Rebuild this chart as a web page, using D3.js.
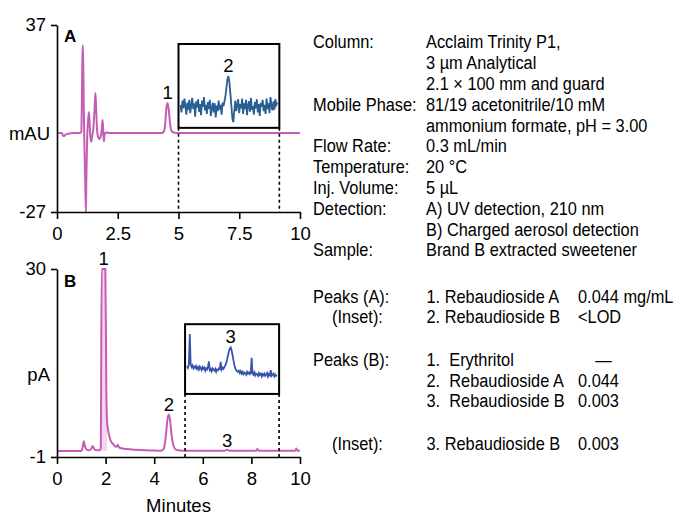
<!DOCTYPE html>
<html>
<head>
<meta charset="utf-8">
<script src="https://cdn.jsdelivr.net/npm/d3@7"></script>
<style>
  body { margin: 0; background: #fff; }
  text { font-family: "Liberation Sans", Arial, sans-serif; font-size: 18.5px; fill: #000; }
</style>
</head>
<body>
<svg id="chart" width="685" height="516"></svg>
<script>
// Trace A: UV 210 nm, [minutes, mAU]
const traceA = [
  [0, 0], [0.2, 0], [0.25, -0.8], [0.3, -1.0], [0.35, -0.5], [0.45, -0.2], [0.7, 0], [0.95, 0],
  [1.0, 0.5], [1.03, 15], [1.05, 30], [1.07, 30], [1.1, 10], [1.13, -5], [1.17, -20], [1.19, -27],
  [1.21, -15], [1.24, -2], [1.27, 3], [1.31, 7.2], [1.34, 4], [1.37, -1], [1.41, -3], [1.45, -1],
  [1.5, 2], [1.55, 9], [1.58, 13.7], [1.61, 9], [1.65, 1], [1.7, -1.5], [1.75, -2], [1.8, -1],
  [1.84, 1], [1.87, 4.5], [1.89, 3], [1.91, -1], [1.93, -2.9], [1.96, -0.5], [2.0, 0.2], [2.2, 0],
  [4.3, 0], [4.4, 0.6], [4.45, 3], [4.5, 8.5], [4.55, 10.3], [4.6, 8], [4.65, 3.5], [4.7, 1],
  [4.8, 0.2], [5, 0], [10, 0]
];

// Trace B: charged aerosol, [minutes, pA]
const traceB = [
  [0, 0], [1.0, 0], [1.05, 0.5], [1.1, 1.6], [1.15, 0.8], [1.2, 0.3], [1.3, 0.1], [1.4, 0.3],
  [1.47, 0.8], [1.52, 0.4], [1.6, 0.1], [1.75, 0.1], [1.8, 0.5], [1.84, 30], [1.99, 30], [2.03, 10],
  [2.06, 4.8], [2.1, 3.5], [2.15, 2.5], [2.2, 1.8], [2.25, 1.4], [2.3, 1.2], [2.35, 0.9], [2.45, 0.7],
  [2.5, 1.0], [2.55, 0.6], [2.7, 0.4], [2.9, 0.3], [3.2, 0.2], [3.6, 0.1], [4.3, 0.05], [4.4, 0.4],
  [4.48, 2.5], [4.55, 5.3], [4.6, 6.0], [4.65, 5.2], [4.72, 2.5], [4.8, 0.8], [4.9, 0.2], [5.2, 0.05],
  [6.9, 0.05], [7.0, 0.2], [7.1, 0.05], [8.2, 0.05], [8.25, 0.3], [8.3, 0.05], [9.8, 0.05],
  [9.85, 0.4], [9.9, 0.05], [10, 0.05]
];

// Inset signals, evenly sampled over the inset time window (relative units)
const insetA = [
  0.3, -0.8, 0.9, -0.2, 1.2, 0.1, -1.1, 0.6, -0.4, 1.0,
  -0.9, 0.2, 1.3, -0.3, 0.5, -1.4, 0.8, -0.1, 1.1, -0.7,
  0.4, -1.2, 0.9, 0.0, 1.4, -0.5, 0.3, -1.0, 0.7, -0.3,
  1.0, -1.3, -0.2, 0.6, -0.8, 0.5, -1.5, 0.2, -0.6, 0.9,
  -0.4, 0.3, -1.1, 0.6, 0.1,
  0.8, 1.6, 2.8, 4.0, 4.4, 3.5, 1.9, 0.2, -1.6, -2.2, -0.5,
  0.9, -0.6, 0.3, 1.1, -0.9, 0.4, -0.2, 1.2, -1.0, 0.5,
  -0.3, 1.0, -1.2, 0.2, 0.8, -0.7, 1.3, -0.4, 0.1, -1.1,
  0.7, -0.2, 1.1, -0.8, 0.4, -1.3, 0.6, 0.0, 1.0, -0.6,
  0.3, -1.0, 1.2, -0.3, 0.5, -0.9, 1.4, 0.1, -0.5, 0.8,
  -0.4, 1.1, 0.3, 0.6
];
const insetB = [
  1.8, 1.5, 2.2, 7.3, 2.0, 1.6, 1.9, 1.4, 1.7, 1.5,
  1.8, 1.3, 1.6, 1.2, 1.7, 1.4, 1.1, 1.6, 1.3, 1.5,
  1.0, 1.4, 1.2, 1.6, 2.6, 1.1, 1.3, 0.9, 1.4, 1.2,
  1.0, 1.3, 0.8, 1.2, 1.1, 1.4, 1.3, 2.5, 1.2, 1.5,
  1.3, 1.6, 1.9, 2.3, 2.9, 3.6, 4.3, 4.8, 5.0, 4.5,
  3.7, 2.8, 2.0, 1.4, 1.1, 0.9, 0.8, 1.0, 0.6, 0.9,
  0.5, 0.8, 0.4, 0.7, 0.6, 0.3, 0.8, 0.5, 0.7, 0.4,
  0.6, 3.2, 0.5, 0.3, 0.7, 0.2, 0.5, 0.4, 0.1, 0.6,
  0.3, 0.5, 0.0, 0.4, 0.2, 0.5, 0.1, 0.3, 0.6, 0.0,
  0.4, 0.2, 1.1, 0.1, 0.3, 0.5, 0.0, 0.3, 0.1, 0.2
];

const ticksA = [0, 2.5, 5, 7.5, 10];
const ticksB = [0, 2, 4, 6, 8, 10];

const methodLabels = ["Column:", "", "", "Mobile Phase:", "", "Flow Rate:", "Temperature:",
  "Inj. Volume:", "Detection:", "", "Sample:"];
const methodValues = ["Acclaim Trinity P1,", "3 µm Analytical", "2.1 × 100 mm and guard",
  "81/19 acetonitrile/10 mM", "ammonium formate, pH = 3.00", "0.3 mL/min", "20 °C", "5 µL",
  "A) UV detection, 210 nm", "B) Charged aerosol detection", "Brand B extracted sweetener"];

const peakRows = [
  { label: "Peaks (A):", name: "1. Rebaudioside A", amount: "0.044 mg/mL", y: 303 },
  { label: "(Inset):", name: "2. Rebaudioside B", amount: "<LOD", y: 323, indent: true },
  { label: "Peaks (B):", name: "1.  Erythritol", amount: "—", y: 366, dash: true },
  { label: "", name: "2.  Rebaudioside A", amount: "0.044", y: 387 },
  { label: "", name: "3.  Rebaudioside B", amount: "0.003", y: 407 },
  { label: "(Inset):", name: "3. Rebaudioside B", amount: "0.003", y: 450, indent: true }
];

const pink = "#c65db4";
const svg = d3.select("#chart");

// text in the conditions block is set narrower than the chart labels
function blockText(x, y, str, anchor) {
  return svg.append("text")
    .attr("transform", `translate(${x},${y}) scale(0.885,1)`)
    .attr("text-anchor", anchor || "start")
    .style("white-space", "pre")
    .text(str);
}

function drawPanel(p) {
  const x = d3.scaleLinear().domain([0, 10]).range([57, 300]);
  const y = d3.scaleLinear().domain(p.yDomain).range(p.yRange);
  const g = svg.append("g");

  if (p.fillFrom !== undefined) {
    const part = p.trace.filter(d => d[0] >= p.fillFrom && d[0] <= p.fillTo);
    g.append("path")
      .datum(part)
      .attr("fill", "#f3d6ee")
      .attr("d", d3.area().x(d => x(d[0])).y0(y(0)).y1(d => y(d[1])));
  }

  g.append("path")
    .datum(p.trace)
    .attr("fill", "none")
    .attr("stroke", pink)
    .attr("stroke-width", 2)
    .attr("stroke-linejoin", "round")
    .attr("d", d3.line().x(d => x(d[0])).y(d => y(d[1])).curve(d3.curveMonotoneX));

  const ax = g.append("g")
    .attr("transform", `translate(0,${p.yRange[0]})`)
    .call(d3.axisBottom(x).tickValues(p.xTicks).tickSize(7).tickPadding(8)
      .tickSizeOuter(0).tickFormat(d => String(d)));
  const ay = g.append("g")
    .attr("transform", "translate(57,0)")
    .call(d3.axisLeft(y).tickValues(p.yDomain).tickSize(6).tickPadding(5)
      .tickSizeOuter(0).tickFormat(d => String(d)));
  [ax, ay].forEach(a => {
    a.attr("font-size", null).attr("font-family", null);
    a.selectAll("path, line").attr("stroke", "#000").attr("stroke-width", 1.6);
    a.selectAll("text").style("font-size", "18.5px");
  });

  // inset window
  const bx0 = x(p.inset.t0), bx1 = x(p.inset.t1);
  const by0 = y(p.inset.v1), by1 = y(p.inset.v0);
  [bx0, bx1].forEach(xx => {
    g.append("line")
      .attr("x1", xx).attr("x2", xx)
      .attr("y1", by1).attr("y2", p.yRange[0])
      .attr("stroke", "#000").attr("stroke-width", 1.6)
      .attr("stroke-dasharray", "3,3");
  });
  g.append("rect")
    .attr("x", bx0).attr("y", by0)
    .attr("width", bx1 - bx0).attr("height", by1 - by0)
    .attr("fill", "#fff").attr("stroke", "#000").attr("stroke-width", 2);

  const ix = d3.scaleLinear().domain([0, p.inset.data.length - 1]).range([bx0 + 2, bx1 - 2]);
  const iy = d3.scaleLinear().domain([-3, 9]).range([by1, by0]);
  g.append("path")
    .datum(p.inset.data)
    .attr("fill", "none")
    .attr("stroke", p.inset.color)
    .attr("stroke-width", 1.8)
    .attr("d", d3.line().x((d, i) => ix(i)).y(d => iy(d)));

  // labels
  g.append("text").attr("x", 64).attr("y", p.letterY)
    .attr("font-weight", "bold").style("font-size", "17px").text(p.letter);
  g.append("text").attr("x", 50).attr("y", p.unitY)
    .attr("text-anchor", "end").text(p.unit);
  p.peaks.forEach(pk => {
    const px = pk.inset ? ix(pk.t) : x(pk.t);
    const py = pk.inset ? iy(pk.v) : y(pk.v);
    g.append("text").attr("x", px).attr("y", py - 4)
      .attr("text-anchor", "middle").text(pk.text);
  });
  return g;
}

drawPanel({
  trace: traceA, yDomain: [-27, 37], yRange: [212, 25], xTicks: ticksA,
  letter: "A", letterY: 42, unit: "mAU", unitY: 140,
  inset: { t0: 5, t1: 9.15, v0: 1.8, v1: 30.5, data: insetA, color: "#2b5e93" },
  peaks: [{ t: 4.55, v: 10.3, text: "1" }, { inset: true, t: 49, v: 4.4, text: "2" }]
});

drawPanel({
  trace: traceB, yDomain: [-1, 30], yRange: [457, 269], xTicks: ticksB,
  letter: "B", letterY: 287, unit: "pA", unitY: 381,
  fillFrom: 1.8, fillTo: 2.06,
  inset: { t0: 5.27, t1: 9.14, v0: 9.4, v1: 20.9, data: insetB, color: "#3a54ad" },
  peaks: [{ t: 1.92, v: 30, text: "1" }, { t: 4.6, v: 6.0, text: "2" },
          { t: 7.0, v: 0, text: "3" }, { inset: true, t: 48, v: 5.0, text: "3" }]
});

svg.append("text").attr("x", 178.5).attr("y", 512)
  .attr("text-anchor", "middle").text("Minutes");

// method conditions
const lineStep = 20.8;
methodLabels.forEach((t, i) => {
  if (t) blockText(313, 48.3 + i * lineStep, t);
});
methodValues.forEach((t, i) => {
  blockText(426, 48.3 + i * lineStep, t);
});

peakRows.forEach(r => {
  if (r.label) blockText(r.indent ? 332 : 313, r.y, r.label);
  blockText(426.5, r.y, r.name);
  blockText(r.dash ? 603.5 : 578, r.y, r.amount, r.dash ? "middle" : "start");
});
</script>
</body>
</html>
